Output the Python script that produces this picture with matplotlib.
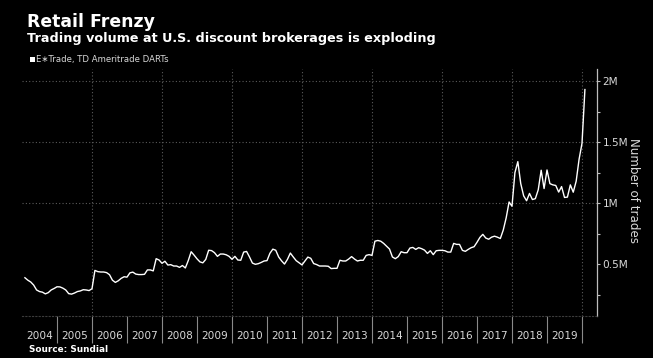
import matplotlib
matplotlib.use("Agg")
import matplotlib.pyplot as plt
import matplotlib.patches as mpatches
from matplotlib.ticker import FixedLocator, NullFormatter
import numpy as np

# ---- data (monthly, Feb 2004 .. Feb 2020), millions of trades ----
start_year = 2004
start_month_index = 1  # months after Jan 2004
darts_millions = [
    0.39, 0.37, 0.355, 0.33, 0.29, 0.277, 0.272, 0.258, 0.268, 0.29, 0.302, 0.316,
    0.315, 0.305, 0.29, 0.26, 0.256, 0.265, 0.277, 0.282, 0.292, 0.29, 0.285, 0.30,
    0.45, 0.44, 0.437, 0.437, 0.432, 0.415, 0.37, 0.352, 0.365, 0.385, 0.398, 0.395,
    0.43, 0.436, 0.42, 0.416, 0.416, 0.418, 0.454, 0.454, 0.446, 0.546, 0.535, 0.508,
    0.525, 0.494, 0.497, 0.486, 0.486, 0.475, 0.49, 0.47, 0.53, 0.603, 0.575, 0.545,
    0.52, 0.512, 0.54, 0.615, 0.612, 0.595, 0.565, 0.584, 0.584, 0.578, 0.565, 0.541,
    0.565, 0.535, 0.533, 0.6, 0.605, 0.56, 0.51, 0.5, 0.505, 0.515, 0.527, 0.53,
    0.59, 0.624, 0.615, 0.56, 0.528, 0.502, 0.54, 0.592, 0.56, 0.53, 0.512, 0.495,
    0.527, 0.559, 0.549, 0.506, 0.498, 0.486, 0.486, 0.486, 0.484, 0.465, 0.467, 0.467,
    0.533, 0.527, 0.527, 0.543, 0.563, 0.543, 0.527, 0.533, 0.533, 0.573, 0.579, 0.573,
    0.689, 0.695, 0.689, 0.671, 0.648, 0.625, 0.56, 0.546, 0.563, 0.603, 0.595, 0.595,
    0.633, 0.638, 0.622, 0.636, 0.628, 0.616, 0.589, 0.611, 0.579, 0.611, 0.614, 0.614,
    0.611, 0.6, 0.6, 0.671, 0.663, 0.663, 0.614, 0.606, 0.622, 0.636, 0.644, 0.68,
    0.72, 0.745, 0.715, 0.705, 0.722, 0.73, 0.722, 0.711, 0.78, 0.88, 1.01, 0.975,
    1.25, 1.34, 1.16, 1.06, 1.02, 1.08, 1.03, 1.037, 1.11, 1.27, 1.12, 1.272,
    1.16, 1.15, 1.145, 1.091, 1.136, 1.047, 1.05, 1.15, 1.09, 1.18, 1.36, 1.49, 1.93,
]
year_labels = [str(y) for y in range(2004, 2020)]
year_bounds = list(range(2005, 2021))
grid_years = list(range(2006, 2021, 2))
y_ticks = [0.5, 1.0, 1.5, 2.0]
y_tick_labels = ["0.5M", "1M", "1.5M", "2M"]
y_minor = [0.25, 0.75, 1.25, 1.75]
y_grid = [1.0, 1.5, 2.0]

dates = start_year + (start_month_index + np.arange(len(darts_millions))) / 12.0

W, H = 653, 358
fig = plt.figure(figsize=(W / 100, H / 100), dpi=100, facecolor="black")

def fx(px):
    return px / W

def fy(py):
    return 1 - py / H

ax_left, ax_right, ax_top, ax_bottom = 22, 597, 69, 316
ax = fig.add_axes([fx(ax_left), fy(ax_bottom), (ax_right - ax_left) / W, (ax_bottom - ax_top) / H])
ax.set_facecolor("black")

# scale: 0 at y=325.4, 2M at y=81
px_per_m = (325.4 - 81) / 2.0
ax.set_ylim((325.4 - ax_bottom) / px_per_m, (325.4 - ax_top) / px_per_m)
ax.set_xlim(2004.0, 2004.0 + (ax_right - ax_left) / 35.0)

grid_col = "#5a5a5a"
for g in grid_years:
    ax.axvline(g, color=grid_col, lw=0.8, ls=(0, (1, 2)), zorder=1)
for g in y_grid:
    ax.axhline(g, color=grid_col, lw=0.8, ls=(0, (1, 2)), zorder=1)

ax.plot(dates, darts_millions, color="white", lw=1.0, zorder=3, solid_joinstyle="round")

for s in ["left", "top"]:
    ax.spines[s].set_visible(False)
ax.spines["right"].set_color("#bdbdbd")
ax.spines["right"].set_linewidth(0.9)
ax.spines["bottom"].set_color("#3c3c3c")
ax.spines["bottom"].set_linestyle((0, (1, 2)))
ax.spines["bottom"].set_linewidth(0.8)

# x axis: year separators (major) + centered labels (minor)
ax.xaxis.set_major_locator(FixedLocator(year_bounds))
ax.xaxis.set_major_formatter(NullFormatter())
ax.xaxis.set_minor_locator(FixedLocator([int(y) + 0.5 for y in year_labels]))
ax.set_xticklabels(year_labels, minor=True)
ax.tick_params(axis="x", which="major", length=19.5, width=0.8, color="#8a8a8a", direction="out")
ax.tick_params(axis="x", which="minor", length=0, pad=11, labelsize=7.6, labelcolor="#d8d8d8")

# y axis on right
ax.yaxis.tick_right()
ax.yaxis.set_major_locator(FixedLocator(y_ticks))
ax.set_yticklabels(y_tick_labels)
ax.yaxis.set_minor_locator(FixedLocator(y_minor))
ax.tick_params(axis="y", which="major", length=2.5, width=0.8, color="#bdbdbd", pad=1.5,
               labelsize=7.6, labelcolor="#d8d8d8", direction="out")
ax.tick_params(axis="y", which="minor", length=2.5, width=0.8, color="#bdbdbd", direction="out")
ax.tick_params(axis="y", which="both", left=False)

fig.text(fx(634), fy(191), "Number of trades", rotation=270, color="#d8d8d8",
         fontsize=8.6, ha="center", va="center")

# titles
fig.text(fx(27), fy(26.7), "Retail Frenzy", color="white", fontsize=12.4,
         fontweight="bold", ha="left", va="baseline")
fig.text(fx(27), fy(42.3), "Trading volume at U.S. discount brokerages is exploding",
         color="white", fontsize=9.2, fontweight="bold", ha="left", va="baseline")

# legend
fig.patches.append(mpatches.Rectangle((fx(30), fy(62)), 5 / W, 5 / H, transform=fig.transFigure,
                                      facecolor="white", edgecolor="none"))
fig.text(fx(36.5), fy(59.8), "E∗Trade, TD Ameritrade DARTs", color="#d8d8d8",
         fontsize=6.15, ha="left", va="center")

fig.text(fx(29), fy(349.5), "Source: Sundial", color="white", fontsize=6.4,
         fontweight="bold", ha="left", va="center")

fig.savefig("out.png", dpi=100, facecolor="black")
